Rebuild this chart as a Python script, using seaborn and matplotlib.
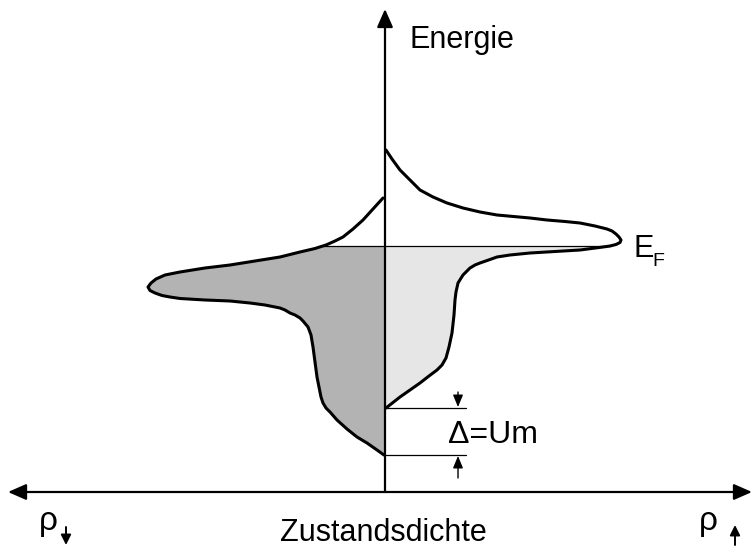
import numpy as np
import pandas as pd
import seaborn as sns
import matplotlib.pyplot as plt
from matplotlib.patches import FancyArrowPatch

# Spin-up density of states (right half), energy measured from the density axis
dos_up = [0.01, 0.07, 0.15, 0.28, 0.35, 0.48, 0.62, 0.78, 0.95, 1.12, 1.45, 1.62,
          1.80, 1.95, 2.10, 2.22, 2.27, 2.31, 2.34, 2.36, 2.35, 2.31, 2.25, 2.18,
          1.95, 1.70, 1.45, 1.25, 1.12, 1.05, 0.95, 0.90, 0.85, 0.78, 0.73, 0.71,
          0.70, 0.69, 0.67, 0.64, 0.61, 0.57, 0.52, 0.44, 0.35, 0.15, 0.01]
energy_up = [3.42, 3.33, 3.22, 3.09, 3.02, 2.95, 2.89, 2.84, 2.80, 2.77, 2.74, 2.72,
             2.705, 2.69, 2.66, 2.63, 2.61, 2.58, 2.55, 2.52, 2.495, 2.475, 2.46, 2.45,
             2.42, 2.405, 2.39, 2.37, 2.35, 2.325, 2.29, 2.27, 2.24, 2.17, 2.09, 2.00,
             1.92, 1.77, 1.59, 1.45, 1.34, 1.27, 1.22, 1.16, 1.09, 0.95, 0.84]

# Spin-down density of states (left half, plotted as negative density)
dos_down = [-0.02, -0.12, -0.22, -0.32, -0.42, -0.50, -0.59, -0.70, -0.85, -1.05,
            -1.30, -1.55, -1.80, -2.05, -2.20, -2.29, -2.34, -2.37, -2.35, -2.30,
            -2.23, -2.15, -2.05, -1.80, -1.55, -1.35, -1.20, -1.05, -1.00, -0.95,
            -0.90, -0.85, -0.82, -0.77, -0.74, -0.72, -0.70, -0.68, -0.65, -0.64,
            -0.62, -0.59, -0.55, -0.48, -0.38, -0.28, -0.18, -0.08, -0.01]
energy_down = [2.94, 2.83, 2.72, 2.63, 2.55, 2.51, 2.47, 2.435, 2.40, 2.35,
               2.31, 2.27, 2.24, 2.20, 2.17, 2.13, 2.09, 2.05, 2.015, 1.99,
               1.965, 1.95, 1.935, 1.92, 1.91, 1.89, 1.87, 1.84, 1.82, 1.79,
               1.77, 1.74, 1.71, 1.65, 1.57, 1.45, 1.30, 1.15, 1.00, 0.95,
               0.89, 0.84, 0.80, 0.72, 0.63, 0.55, 0.49, 0.42, 0.37]

fermi_level = 2.46
axis_labels = ["Energie", "Zustandsdichte"]
exchange_label = "\u0394=Um"

sns.set_theme(style="white")
plt.rcParams["font.family"] = ["Liberation Sans", "DejaVu Sans"]
plt.rcParams["text.color"] = "black"

fig = plt.figure(figsize=(7.52, 5.5), dpi=100)
ax = fig.add_axes([0, 0, 1, 1])
ax.set_xlim(-3.85, 3.67)
ax.set_ylim(-0.58, 4.92)
ax.axis("off")

up = pd.DataFrame({"dos": dos_up, "energy": energy_up})
down = pd.DataFrame({"dos": dos_down, "energy": energy_down})


def occupied(df, ef):
    """Part of a DOS curve below the Fermi level, closed at E_F."""
    asc = df.iloc[::-1]
    d_ef = np.interp(ef, asc["energy"], asc["dos"])
    below = df[df["energy"] <= ef]
    e = np.concatenate([[ef], below["energy"].to_numpy()])
    d = np.concatenate([[d_ef], below["dos"].to_numpy()])
    return e, d, d_ef


e_dn, d_dn, ef_left = occupied(down, fermi_level)
e_up, d_up, ef_right = occupied(up, fermi_level)

# occupied states
ax.fill_betweenx(e_dn, d_dn, 0, color="#b3b3b3", lw=0, zorder=1)
ax.fill_betweenx(e_up, d_up, 0, color="#e6e6e6", lw=0, zorder=1)

# Fermi level
ax.plot([ef_left, ef_right], [fermi_level, fermi_level], color="black", lw=0.9, zorder=2)

# DOS curves
for df in (up, down):
    sns.lineplot(data=df, x="dos", y="energy", sort=False, estimator=None,
                 color="black", lw=2.2, ax=ax, zorder=3,
                 solid_joinstyle="round", solid_capstyle="round")

# coordinate axes
ax.add_patch(FancyArrowPatch((-3.77, 0), (3.67, 0), arrowstyle="<|-|>,head_length=0.5,head_width=0.22",
                             mutation_scale=22, lw=1.6, color="black",
                             shrinkA=0, shrinkB=0, zorder=4))
ax.add_patch(FancyArrowPatch((0, 0), (0, 4.83), arrowstyle="-|>,head_length=0.5,head_width=0.22",
                             mutation_scale=22, lw=1.6, color="black",
                             shrinkA=0, shrinkB=0, zorder=4))

# exchange splitting marker
e_top = energy_up[-1]
e_bot = energy_down[-1]
ax.plot([0, 0.81], [e_top, e_top], color="black", lw=0.9)
ax.plot([0, 0.81], [e_bot, e_bot], color="black", lw=0.9)
arrow_kw = dict(arrowstyle="-|>,head_length=0.6,head_width=0.25", mutation_scale=12,
                lw=1.0, color="black", shrinkA=0, shrinkB=0)
ax.annotate("", xy=(0.73, e_top + 0.01), xytext=(0.73, e_top + 0.16), arrowprops=arrow_kw)
ax.annotate("", xy=(0.73, e_bot - 0.01), xytext=(0.73, e_bot - 0.23), arrowprops=arrow_kw)
ax.text(0.63, 0.49, exchange_label, fontsize=23, ha="left", va="baseline")

# labels
ax.text(0.24, 4.44, axis_labels[0], fontsize=22, ha="left", va="baseline")
ax.text(-0.015, -0.49, axis_labels[1], fontsize=22, ha="center", va="baseline")
ax.text(2.48, 2.35, "E", fontsize=22, ha="left", va="baseline")
ax.text(2.67, 2.26, "F", fontsize=14, ha="left", va="baseline")

# spin densities: rho with a small spin arrow as subscript
spin_kw = dict(arrowstyle="-|>,head_length=0.6,head_width=0.3", mutation_scale=10,
               lw=1.4, color="black", shrinkA=0, shrinkB=0)
ax.text(-3.46, -0.38, "\u03c1", fontsize=24, ha="left", va="baseline")
ax.annotate("", xy=(-3.19, -0.53), xytext=(-3.19, -0.35), arrowprops=spin_kw)
ax.text(3.14, -0.38, "\u03c1", fontsize=24, ha="left", va="baseline")
ax.annotate("", xy=(3.50, -0.33), xytext=(3.50, -0.53), arrowprops=spin_kw)

fig.savefig("out.png", dpi=100)
